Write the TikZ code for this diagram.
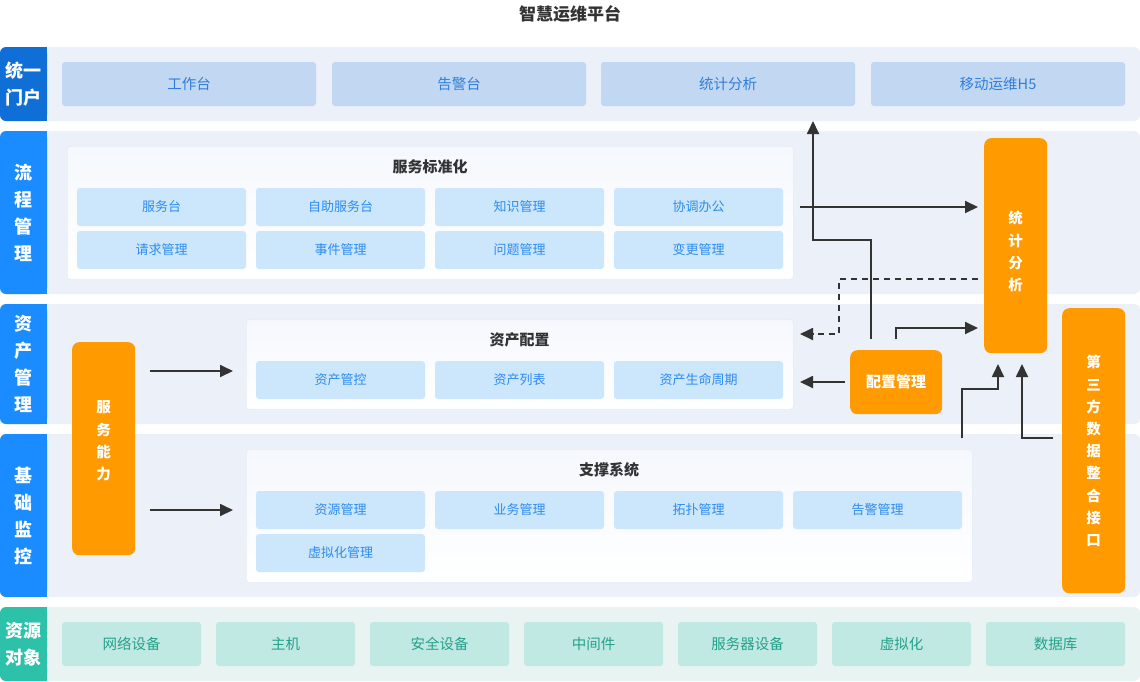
\documentclass[tikz,border=0pt]{standalone}
\usepackage{fontspec}
\setmainfont{Noto Sans CJK SC}
\usetikzlibrary{arrows.meta,calc}
\definecolor{ttl}{HTML}{333333}
\definecolor{labA}{HTML}{0F6FD6}
\definecolor{labB}{HTML}{1A8CFF}
\definecolor{labC}{HTML}{2CC1A8}
\definecolor{bandB}{HTML}{EBF0F9}
\definecolor{bandC}{HTML}{E8F3F2}
\definecolor{itA}{HTML}{C2D7F2}
\definecolor{itAt}{HTML}{2F7FD9}
\definecolor{itB}{HTML}{CCE6FC}
\definecolor{itBt}{HTML}{2D8CF0}
\definecolor{itC}{HTML}{C1E9E3}
\definecolor{itCt}{HTML}{24A08B}
\definecolor{org}{HTML}{FF9A00}
\definecolor{pnl}{HTML}{F5F8FD}
\definecolor{pnlb}{HTML}{E6ECF5}
\definecolor{ln}{HTML}{333333}
\tikzset{
  lab/.style={rounded corners=6, text=white, font=\bfseries\fontsize{18}{27}\selectfont, align=center, inner sep=0, minimum width=47},
  itemA/.style={fill=itA, rounded corners=3, text=itAt, font=\fontsize{14.5}{16}\selectfont, minimum width=254, minimum height=44, inner sep=0},
  itemB/.style={fill=itB, rounded corners=3, text=itBt, font=\fontsize{13}{15}\selectfont, minimum width=169, minimum height=38, inner sep=0},
  itemC/.style={fill=itC, rounded corners=3, text=itCt, font=\fontsize{14.5}{16}\selectfont, minimum width=139, minimum height=44, inner sep=0},
  panel/.style={draw=pnlb, line width=0.6, top color=pnl, bottom color=white, rounded corners=3, anchor=north west, inner sep=0},
  ptitle/.style={text=ttl, font=\bfseries\fontsize{15}{18}\selectfont, inner sep=0},
  obox/.style={fill=org, rounded corners=7, anchor=north west, inner sep=0},
  otext/.style={text=white, font=\bfseries\fontsize{14.5}{22.2}\selectfont, align=center, inner sep=0},
  arr/.style={draw=ln, line width=1.8, -{Triangle[length=13,width=12]}},
}
\begin{document}
\begin{tikzpicture}[x=1pt,y=-1pt]
\useasboundingbox (0,0) rectangle (1140,681);
\node[text=ttl, font=\bfseries\fontsize{17}{20}\selectfont] (title) at (570,14) {智慧运维平台};

% bands
\fill[bandB, rounded corners=6] (0,47) rectangle (1140,121);
\fill[bandB, rounded corners=6] (0,131) rectangle (1140,294);
\fill[bandB, rounded corners=6] (0,304) rectangle (1140,424);
\fill[bandB, rounded corners=6] (0,434) rectangle (1140,597);
\fill[bandC, rounded corners=6] (0,607) rectangle (1140,681);

\fill[labA] (24,47) rectangle (47,121);
\fill[labB] (24,131) rectangle (47,294);
\fill[labB] (24,304) rectangle (47,424);
\fill[labB] (24,434) rectangle (47,597);
\fill[labC] (24,607) rectangle (47,681);
\node[lab, fill=labA, minimum height=74] (L1) at (23.5,84) {统一\\门户};
\node[lab, fill=labB, minimum height=163] (L2) at (23.5,212.5) {流\\程\\管\\理};
\node[lab, fill=labB, minimum height=120] (L3) at (23.5,364) {资\\产\\管\\理};
\node[lab, fill=labB, minimum height=163] (L4) at (23.5,515.5) {基\\础\\监\\控};
\node[lab, fill=labC, minimum height=74] (L5) at (23.5,644) {资源\\对象};

% row 1
\node[itemA] (u1) at (189,84) {工作台};
\node[itemA] (u2) at (459,84) {告警台};
\node[itemA] (u3) at (728,84) {统计分析};
\node[itemA] (u4) at (998,84) {移动运维H5};

% row 2
\node[panel, minimum width=726, minimum height=133] (P2) at (67,146) {};
\node[ptitle] (P2t) at (430,167) {服务标准化};
\node[itemB] (s1) at (161.5,207) {服务台};
\node[itemB] (s2) at (340.5,207) {自助服务台};
\node[itemB] (s3) at (519.5,207) {知识管理};
\node[itemB] (s4) at (698.5,207) {协调办公};
\node[itemB] (s5) at (161.5,250) {请求管理};
\node[itemB] (s6) at (340.5,250) {事件管理};
\node[itemB] (s7) at (519.5,250) {问题管理};
\node[itemB] (s8) at (698.5,250) {变更管理};

% row 3
\node[panel, minimum width=547, minimum height=90] (P3) at (246,319) {};
\node[ptitle] (P3t) at (519.5,340) {资产配置};
\node[itemB] (a1) at (340.5,380) {资产管控};
\node[itemB] (a2) at (519.5,380) {资产列表};
\node[itemB] (a3) at (698.5,380) {资产生命周期};

% row 4
\node[panel, minimum width=726, minimum height=133] (P4) at (246,449) {};
\node[ptitle] (P4t) at (609,470) {支撑系统};
\node[itemB] (m1) at (340.5,510) {资源管理};
\node[itemB] (m2) at (519.5,510) {业务管理};
\node[itemB] (m3) at (698.5,510) {拓扑管理};
\node[itemB] (m4) at (877.5,510) {告警管理};
\node[itemB] (m5) at (340.5,553) {虚拟化管理};

% row 5
\node[itemC] (r1) at (131.5,644) {网络设备};
\node[itemC] (r2) at (285.5,644) {主机};
\node[itemC] (r3) at (439.5,644) {安全设备};
\node[itemC] (r4) at (593.5,644) {中间件};
\node[itemC] (r5) at (747.5,644) {服务器设备};
\node[itemC] (r6) at (901.5,644) {虚拟化};
\node[itemC] (r7) at (1055.5,644) {数据库};

% orange boxes
\node[obox, minimum width=63, minimum height=213] (fw) at (72,342) {};
\node[otext] (fwt) at (103.5,441) {服\\务\\能\\力};
\node[obox, minimum width=63, minimum height=215] (tj) at (984,138) {};
\node[otext] (tjt) at (1015.5,251.5) {统\\计\\分\\析};
\node[obox, minimum width=92, minimum height=64] (pz) at (850,350) {};
\node[otext, font=\bfseries\fontsize{15}{18}\selectfont] (pzt) at (896,382) {配置管理};
\node[obox, minimum width=63, minimum height=285] (dsf) at (1062,308) {};
\node[otext] (dsft) at (1093.5,451) {第\\三\\方\\数\\据\\整\\合\\接\\口};

% connector coordinates
\coordinate (c1) at (150,371);
\coordinate (c1e) at (233,371);
\coordinate (c2) at (150,510);
\coordinate (c2e) at (233,510);
\coordinate (c3) at (800,207);
\coordinate (c3e) at (978,207);
\coordinate (c4) at (871,339);
\coordinate (c4e) at (813,121);
\coordinate (c5) at (978,279);
\coordinate (c5e) at (800,334);
\coordinate (c6) at (896,339);
\coordinate (c6e) at (978,328);
\coordinate (c7) at (845,382);
\coordinate (c7e) at (800,382);
\coordinate (c8) at (962,438);
\coordinate (c8e) at (998,364);
\coordinate (c9) at (1053,438);
\coordinate (c9e) at (1022,364);

\draw[arr] (c1) -- (c1e);
\draw[arr] (c2) -- (c2e);
\draw[arr] (c3) -- (c3e);
\draw[arr] (c4) -- (871,240) -- (813,240) -- (c4e);
\draw[arr, dashed, dash pattern=on 6 off 5] (c5) -- (839,279) -- (839,334) -- (c5e);
\draw[arr] (c6) -- (896,328) -- (c6e);
\draw[arr] (c7) -- (c7e);
\draw[arr] (c8) -- (962,389) -- (998,389) -- (c8e);
\draw[arr] (c9) -- (1022,438) -- (c9e);
\end{tikzpicture}
\end{document}
